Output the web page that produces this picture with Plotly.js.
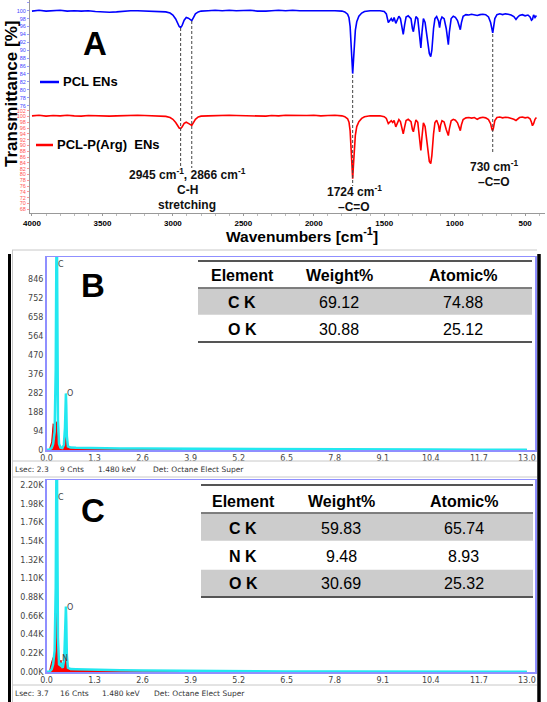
<!DOCTYPE html>
<html><head><meta charset="utf-8">
<script src="https://cdn.plot.ly/plotly-3.0.1.min.js"></script>
<style>html,body{margin:0;padding:0;background:#fff}#chart{width:547px;height:702px}</style>
</head><body><div id="chart"></div>
<script>
const W=547,H=702;
const px=x=>x/W, py=y=>1-y/H;

// ---------- Panel A: FTIR ----------
const wn=[4000,3950,3900,3850,3800,3750,3700,3650,3600,3550,3500,3450,3400,3350,3300,3250,3200,3150,3100,3050,3020,3000,2980,2965,2955,2945,2935,2920,2905,2890,2878,2866,2855,2840,2820,2800,2750,2700,2650,2600,2550,2500,2450,2400,2360,2340,2300,2250,2200,2150,2100,2050,2000,1950,1900,1850,1800,1780,1760,1750,1742,1735,1730,1724,1718,1712,1705,1695,1680,1660,1640,1600,1560,1530,1500,1485,1471,1460,1450,1440,1430,1418,1408,1396,1385,1375,1365,1355,1345,1330,1310,1300,1293,1285,1275,1262,1250,1240,1232,1222,1210,1195,1180,1170,1162,1150,1140,1128,1115,1107,1100,1090,1075,1060,1045,1038,1025,1010,995,980,968,960,952,940,920,900,880,860,840,820,800,780,760,745,735,730,725,715,700,680,660,640,620,600,580,565,555,540,520,500,480,465,455,448,440,430,420];
const tPCL=[99.9,100.1,99.9,100.0,100.1,99.9,100.0,99.9,100.0,99.8,99.7,99.6,99.7,99.9,100.0,100.0,99.9,99.9,99.8,99.7,99.4,98.9,97.9,96.7,96.0,95.7,96.2,97.6,98.3,98.1,97.8,97.5,98.2,99.2,99.7,99.9,100.0,100.1,100.0,100.1,100.0,100.0,100.1,99.9,99.8,99.9,100.0,100.1,100.0,100.1,100.0,100.0,100.1,100.0,100.1,100.0,99.9,99.7,99.1,98.2,96.0,92.0,88.0,84.1,87.5,92.0,95.0,97.2,98.6,99.4,99.8,100.0,100.1,100.0,99.8,99.2,97.0,97.6,98.0,97.3,98.3,96.8,97.8,98.6,98.0,96.0,94.0,96.5,98.4,98.7,98.0,95.5,94.7,96.5,98.5,98.0,94.0,90.6,94.5,98.0,97.0,93.0,89.2,88.4,90.0,95.5,98.0,98.5,97.4,95.7,97.5,98.4,98.0,95.5,91.4,94.5,98.0,98.6,98.3,97.5,96.0,95.2,97.0,98.6,99.0,98.9,99.1,99.0,98.8,99.0,99.1,99.0,98.4,97.0,94.8,94.4,95.5,98.0,99.0,99.2,99.0,99.2,99.1,98.9,98.5,97.8,98.3,98.8,99.0,98.7,98.9,98.4,97.6,97.8,98.9,98.3,98.8];
const tArg=[100.2,100.4,100.1,100.3,100.2,100.4,100.2,100.1,100.3,100.2,100.0,100.1,100.2,100.3,100.2,100.4,100.3,100.2,100.1,100.0,99.6,99.0,97.9,96.7,96.0,95.8,96.3,97.6,98.0,97.6,97.2,96.9,97.8,99.0,99.8,100.1,100.2,100.3,100.2,100.4,100.3,100.2,100.3,100.1,99.9,100.1,100.3,100.2,100.4,100.3,100.2,100.3,100.4,100.2,100.3,100.4,100.2,99.9,99.2,98.0,95.0,89.5,84.0,78.5,83.5,89.5,93.5,96.5,98.2,99.3,99.9,100.2,100.3,100.2,99.9,99.3,97.5,98.2,98.5,97.9,98.6,96.4,97.8,98.9,98.2,96.0,94.0,96.4,98.6,99.0,98.2,95.5,94.7,96.6,98.8,98.0,92.5,88.3,93.0,97.8,96.5,90.5,84.5,83.7,86.5,94.0,97.9,98.7,97.0,94.7,97.0,98.5,98.1,95.5,93.4,95.6,98.5,99.0,98.7,97.8,96.2,95.1,97.1,98.9,99.5,99.6,99.4,99.6,99.0,99.5,99.7,99.5,98.9,97.5,95.4,95.1,96.0,98.6,99.6,99.8,99.5,99.7,99.6,99.4,99.0,98.6,98.9,99.6,99.8,99.5,99.7,99.2,98.0,96.8,97.5,99.0,99.6];
const xTicksA=[4000,3500,3000,2500,2000,1500,1000,500];
const yTicksPCL=[76,78,80,82,84,86,88,90,92,94,96,98,100,102];
const yTicksArg=[68,70,72,74,76,78,80,82,84,86,88,90,92,94,96,98,100,102];
const peakWn=[2945,2866,1724,730];
const seriesNames=['PCL ENs','PCL-P(Arg)  ENs'];

// ---------- Panel B / C: EDS ----------
const energyB=[0.00,0.08,0.14,0.18,0.22,0.25,0.265,0.277,0.29,0.31,0.34,0.38,0.43,0.47,0.50,0.515,0.525,0.535,0.55,0.58,0.65,0.8,1.0,1.5,2.0,2.6,3.5,4.5,5.5,6.5,7.8,9.0,10.4,11.7,13.0];
const fitB=[0,2,10,30,90,400,900,1250,800,150,30,12,10,25,110,230,280,220,70,18,12,11,10,9,8,7,6,5,4,4,3,2,2,1,1];
const countsB=[0,3,40,130,110,60,120,140,90,30,12,8,10,30,70,90,85,60,25,10,8,7,6,5,4,4,3,3,2,2,2,1,1,1,1];
const energyC=[0.00,0.08,0.14,0.18,0.22,0.25,0.265,0.277,0.29,0.31,0.34,0.37,0.392,0.41,0.44,0.48,0.50,0.515,0.525,0.535,0.55,0.58,0.65,0.8,1.0,1.5,2.0,2.6,3.5,4.5,5.5,6.5,7.8,9.0,10.4,11.7,13.0];
const fitC=[0,5,30,90,250,1000,2200,3000,1900,400,90,80,110,70,50,150,420,700,770,600,200,50,35,33,30,26,22,18,14,11,9,7,5,4,3,2,2];
const countsC=[0,8,120,170,140,500,1000,1100,700,150,60,100,140,90,40,120,300,400,380,250,80,30,22,20,18,15,12,10,8,6,5,4,3,2,2,1,1];
const xTicksEDS=[0.0,1.3,2.6,3.9,5.2,6.5,7.8,9.1,10.4,11.7,13.0];
const yTicksB=[0,94,188,282,376,470,564,658,752,846];
const yTicksC=[0,220,440,660,880,1100,1320,1540,1760,1980,2200];
const yTickTextC=['0.00K','0.22K','0.44K','0.66K','0.88K','1.10K','1.32K','1.54K','1.76K','1.98K','2.20K'];
const elemLinesB=[['C',0.277],['O',0.525]];
const elemLinesC=[['C',0.277],['N',0.392],['O',0.525]];
const tableHead=['Element','Weight%','Atomic%'];
const tableB=[['C K','69.12','74.88'],['O K','30.88','25.12']];
const tableC=[['C K','59.83','65.74'],['N K','9.48','8.93'],['O K','30.69','25.32']];
const statusB=['Lsec: 2.3','9 Cnts','1.480 keV','Det: Octane Elect Super'];
const statusC=['Lsec: 3.7','16 Cnts','1.480 keV','Det: Octane Elect Super'];

const AR='Liberation Sans, Arial, sans-serif';
const UI='DejaVu Sans, sans-serif';

const traces=[
 {x:wn,y:tPCL,xaxis:'x',yaxis:'y',mode:'lines',line:{color:'#0000ff',width:1.6},hoverinfo:'skip'},
 {x:wn,y:tArg,xaxis:'x',yaxis:'y2',mode:'lines',line:{color:'#ff0000',width:1.6},hoverinfo:'skip'},
 {x:energyB,y:countsB,xaxis:'x2',yaxis:'y3',mode:'lines',fill:'tozeroy',fillcolor:'#ff0000',line:{color:'#e00000',width:1},hoverinfo:'skip'},
 {x:energyB,y:fitB,xaxis:'x2',yaxis:'y3',mode:'lines',line:{color:'#22e8f0',width:2.5},hoverinfo:'skip'},
 {x:energyC,y:countsC,xaxis:'x3',yaxis:'y4',mode:'lines',fill:'tozeroy',fillcolor:'#ff0000',line:{color:'#e00000',width:1},hoverinfo:'skip'},
 {x:energyC,y:fitC,xaxis:'x3',yaxis:'y4',mode:'lines',line:{color:'#22e8f0',width:2.5},hoverinfo:'skip'}
];

const shapes=[], ann=[];
const dashY=[[28,168],[21,168],[75,186],[34,154]];
peakWn.forEach((w,i)=>shapes.push({type:'line',xref:'x',yref:'paper',x0:w,x1:w,y0:py(dashY[i][0]),y1:py(dashY[i][1]),line:{color:'#444',width:1,dash:'3px,2px'}}));
shapes.push({type:'line',xref:'paper',yref:'paper',x0:px(40),x1:px(59),y0:py(82),y1:py(82),line:{color:'#0000ff',width:2.5}});
shapes.push({type:'line',xref:'paper',yref:'paper',x0:px(36),x1:px(53),y0:py(145),y1:py(145),line:{color:'#ff0000',width:2.5}});
ann.push({xref:'paper',yref:'paper',x:px(61),y:py(82),text:seriesNames[0],showarrow:false,xanchor:'left',yanchor:'middle',font:{family:AR,size:13,weight:'bold',color:'#000'}});
ann.push({xref:'paper',yref:'paper',x:px(55),y:py(145),text:seriesNames[1],showarrow:false,xanchor:'left',yanchor:'middle',font:{family:AR,size:13,weight:'bold',color:'#000'}});
const big=(t,x,y)=>ann.push({xref:'paper',yref:'paper',x:px(x),y:py(y),text:t,showarrow:false,xanchor:'center',yanchor:'middle',font:{family:AR,size:33,weight:'bold',color:'#000'}});
big('A',95,44); big('B',93,285); big('C',93,510);
const atxt=(t,x,y,s)=>ann.push({xref:'paper',yref:'paper',x:px(x),y:py(y),text:t,showarrow:false,xanchor:'center',yanchor:'middle',font:{family:AR,size:s||12,weight:'bold',color:'#111'}});
atxt(peakWn[0]+' cm<sup>-1</sup>, '+peakWn[1]+' cm<sup>-1</sup>',187,174);
atxt('C-H',187,190); atxt('stretching',187,205);
atxt(peakWn[2]+' cm<sup>-1</sup>',354,191); atxt('\u2013C=O',354,207);
atxt(peakWn[3]+' cm<sup>-1</sup>',494,166); atxt('\u2013C=O',494,182);
ann.push({xref:'paper',yref:'paper',x:px(302),y:py(235),text:'Wavenumbers [cm<sup>-1</sup>]',showarrow:false,xanchor:'center',yanchor:'middle',font:{family:AR,size:15.5,weight:'bold',color:'#000'}});
ann.push({xref:'paper',yref:'paper',x:px(11),y:py(94),text:'Transmittance [%]',textangle:-90,showarrow:false,xanchor:'center',yanchor:'middle',font:{family:AR,size:17,weight:'bold',color:'#000'}});

const L=(x0,y0,x1,y1,c,w)=>shapes.push({type:'line',xref:'paper',yref:'paper',x0:px(x0),x1:px(x1),y0:py(y0),y1:py(y1),line:{color:c,width:w}});
L(9.5,254,9.5,702,'#000',3);
L(539,254,539,702,'#000',3.5);
L(12.5,250,12.5,702,'#c8c8c8',1);
L(12,250,537,250,'#c8c8c8',1);
L(12,461,537,461,'#c8c8c8',1);
L(12,477,537,477,'#c8c8c8',1);
L(12,685,537,685,'#c8c8c8',1);
elemLinesB.forEach(([e,x],i)=>ann.push({xref:'x2',yref:'paper',x:x,y:py([264,393][i]),text:e,showarrow:false,xanchor:'left',xshift:-1,yanchor:'middle',font:{family:UI,size:8,color:'#444'}}));
elemLinesC.forEach(([e,x],i)=>ann.push({xref:'x3',yref:'paper',x:x,y:py([497,658,607][i]),text:e,showarrow:false,xanchor:'left',xshift:-1,yanchor:'middle',font:{family:UI,size:8,color:'#444'}}));
const stX=[13,58,96,151];
statusB.forEach((t,i)=>ann.push({xref:'paper',yref:'paper',x:px(stX[i]),y:py(469),text:t,showarrow:false,xanchor:'left',yanchor:'middle',font:{family:UI,size:7.5,color:'#333'}}));
const stXC=[13,58,100,152];
statusC.forEach((t,i)=>ann.push({xref:'paper',yref:'paper',x:px(stXC[i]),y:py(693),text:t,showarrow:false,xanchor:'left',yanchor:'middle',font:{family:UI,size:7.5,color:'#333'}}));

function table(rows,x0,x1,colX,topY,headY,ruleY,rowY,bandTop,rowH,bottomY,shade){
  L(x0,topY,x1,topY,'#555',2);
  L(x0,ruleY,x1,ruleY,'#555',1.5);
  L(x0,bottomY,x1,bottomY,'#555',2);
  rows.forEach((r,i)=>{
    if(shade[i]) shapes.push({type:'rect',xref:'paper',yref:'paper',x0:px(x0),x1:px(x1),y0:py(bandTop+i*rowH+0.8),y1:py(bandTop+(i+1)*rowH-0.2),fillcolor:'#cccccc',line:{width:0},layer:'below'});
  });
  tableHead.forEach((h,j)=>ann.push({xref:'paper',yref:'paper',x:px(colX[j]),y:py(headY),text:h,showarrow:false,xanchor:'center',yanchor:'middle',font:{family:AR,size:16,weight:'bold',color:'#000'}}));
  rows.forEach((r,i)=>r.forEach((v,j)=>ann.push({xref:'paper',yref:'paper',x:px(colX[j]),y:py(rowY[i]),text:v,showarrow:false,xanchor:'center',yanchor:'middle',font:{family:AR,size:16,weight:j===0?'bold':'normal',color:'#000'}})));
}
table(tableB,198,532,[242,339,463],261,275,288,[302,329],288,27,342,[true,false]);
table(tableC,201,533,[243,341,464],485,501,513,[528,556,583],513,28,597,[true,false,true]);

const edsX=(dom,anchor)=>({domain:dom,range:[0,13.22],anchor:anchor,tickvals:xTicksEDS,ticktext:xTicksEDS.map(v=>v.toFixed(1)),ticks:'',showgrid:false,zeroline:false,showline:true,mirror:true,linecolor:'#8f8fff',linewidth:1.5,tickfont:{family:UI,size:8,color:'#444'},fixedrange:true});
const edsY=(dom,range,tv,tt,anchor)=>({domain:dom,range:range,anchor:anchor,tickvals:tv,ticktext:tt,ticks:'',showgrid:false,zeroline:false,showline:true,mirror:true,linecolor:'#8f8fff',linewidth:1.5,tickfont:{family:UI,size:8,color:'#444'},fixedrange:true});

const layout={
 width:W,height:H,margin:{l:0,r:0,t:0,b:0},paper_bgcolor:'#fff',plot_bgcolor:'rgba(0,0,0,0)',showlegend:false,
 xaxis:{domain:[px(30),px(545)],range:[4014,359],anchor:'y2',tickvals:xTicksA,ticks:'outside',ticklen:2,tickcolor:'#999',
   minor:{dtick:100,ticks:'outside',ticklen:2,tickcolor:'#bbb'},showgrid:false,zeroline:false,showline:true,linecolor:'#999',linewidth:1,
   tickfont:{family:AR,size:8,weight:'bold',color:'#000'}},
 yaxis:{domain:[py(108),py(0)],range:[75.4,102.7],anchor:'x',tickvals:yTicksPCL,ticks:'outside',ticklen:2,tickcolor:'#99f',showgrid:false,zeroline:false,
   showline:true,linecolor:'#999',tickfont:{family:AR,size:5.5,color:'#4444ff'}},
 yaxis2:{domain:[py(213),py(108)],range:[66.7,102.9],anchor:'x',tickvals:yTicksArg,ticks:'outside',ticklen:2,tickcolor:'#f99',showgrid:false,zeroline:false,
   showline:true,linecolor:'#999',tickfont:{family:AR,size:5.5,color:'#ff5555'}},
 xaxis2:edsX([px(46.5),px(535)],'y3'),
 yaxis3:edsY([py(450),py(257)],[0,955],yTicksB,yTicksB.map(String),'x2'),
 xaxis3:edsX([px(46.5),px(535)],'y4'),
 yaxis4:edsY([py(672),py(480)],[0,2259],yTicksC,yTickTextC,'x3'),
 shapes:shapes,annotations:ann
};
Plotly.newPlot('chart',traces,layout,{displayModeBar:false,staticPlot:true});
</script></body></html>
